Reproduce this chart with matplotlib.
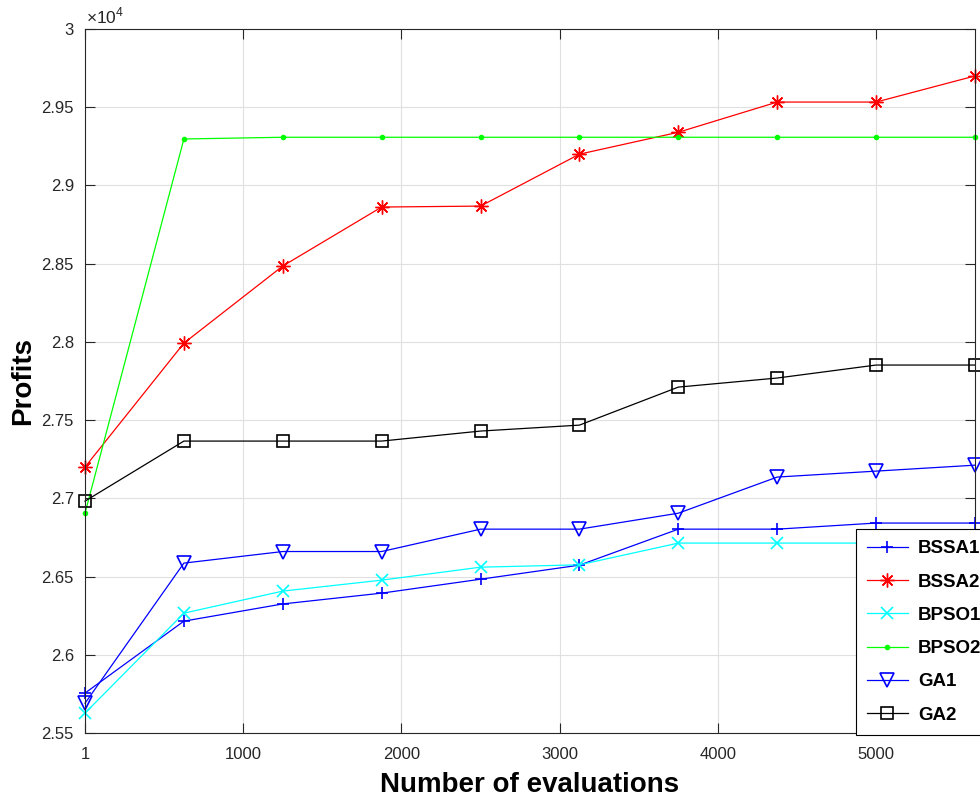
import matplotlib
matplotlib.use('Agg')
import matplotlib.pyplot as plt
import numpy as np
from matplotlib.ticker import FuncFormatter

plt.rcParams['font.family'] = ['Liberation Sans', 'DejaVu Sans']
plt.rcParams['mathtext.fontset'] = 'custom'
plt.rcParams['mathtext.rm'] = 'Liberation Sans'

# nombre d'evaluations (axe x)
evals = [1, 626, 1251, 1876, 2501, 3126, 3751, 4376, 5001, 5626]

# profits
bssa1 = [25755, 26215, 26325, 26394, 26483, 26573, 26803, 26803, 26842, 26842]
bssa2 = [27200, 27992, 28485, 28862, 28868, 29200, 29340, 29533, 29533, 29700]
bpso1 = [25627, 26266, 26407, 26477, 26560, 26575, 26714, 26714, 26714, 26714]
bpso2 = [26905, 29297, 29308, 29308, 29308, 29308, 29308, 29308, 29308, 29308]
ga1 = [25690, 26586, 26660, 26660, 26803, 26803, 26905, 27136, 27174, 27212]
ga2 = [26982, 27366, 27366, 27366, 27430, 27468, 27711, 27769, 27852, 27852]

xticks = [1, 1000, 2000, 3000, 4000, 5000]
yticks = np.arange(25500, 30001, 500)

fig = plt.figure(figsize=(9.8, 8), dpi=100)
ax = fig.add_axes([85 / 980, 67 / 800, 890 / 980, 704 / 800])

lw = 0.9
ax.plot(evals, bssa1, color='#0000ff', marker='+', ms=8, mew=1.2, lw=lw, label='BSSA1', clip_on=False)
ax.plot(evals, bssa2, color='#ff0000', marker=(8, 2, 0), ms=10, mew=1.0, lw=lw, label='BSSA2', clip_on=False)
ax.plot(evals, bpso1, color='#00ffff', marker='x', ms=8, mew=1.2, lw=lw, label='BPSO1', clip_on=False)
ax.plot(evals, bpso2, color='#00ff00', marker='.', ms=6, lw=lw, label='BPSO2', clip_on=False)
ax.plot(evals, ga1, color='#0000ff', marker='v', ms=10, mfc='none', mew=1.2, lw=lw, label='GA1', clip_on=False)
ax.plot(evals, ga2, color='#000000', marker='s', ms=8, mfc='none', mew=1.2, lw=lw, label='GA2', clip_on=False)

ax.set_xlim(1, 5626)
ax.set_ylim(25500, 30000)
ax.set_xticks(xticks)
ax.set_yticks(yticks)
ax.yaxis.set_major_formatter(FuncFormatter(lambda v, p: '%g' % (v / 1e4)))

ax.grid(True, color='#e0e0e0', lw=0.8)
ax.set_axisbelow(True)
ax.tick_params(direction='in', length=7, width=0.8, top=True, right=True,
               labelsize=12, colors='#262626')
ax.tick_params(axis='x', pad=10)
ax.tick_params(axis='y', pad=8)
for s in ax.spines.values():
    s.set_color('#262626')
    s.set_linewidth(0.8)

ax.text(0.001, 1.003, r'$\times10^{4}$', transform=ax.transAxes, ha='left', va='bottom',
        fontsize=12.5, color='#262626')

ax.set_xlabel('Number of evaluations', fontsize=20, fontweight='bold', labelpad=7)
ax.set_ylabel('Profits', fontsize=20, fontweight='bold', labelpad=4)

# legende coupee au bord droit, comme dans l'original
leg = ax.legend(loc='upper left', bbox_to_anchor=(856 / 980, 1 - 529 / 800),
                bbox_transform=fig.transFigure, borderaxespad=0, fancybox=False,
                framealpha=1, edgecolor='#000000', prop={'size': 13.5, 'weight': 'bold'},
                handlelength=2.15, handletextpad=0.55, labelspacing=0.86, borderpad=0.6)
leg.get_frame().set_linewidth(0.8)

fig.savefig('out.png', dpi=100)
